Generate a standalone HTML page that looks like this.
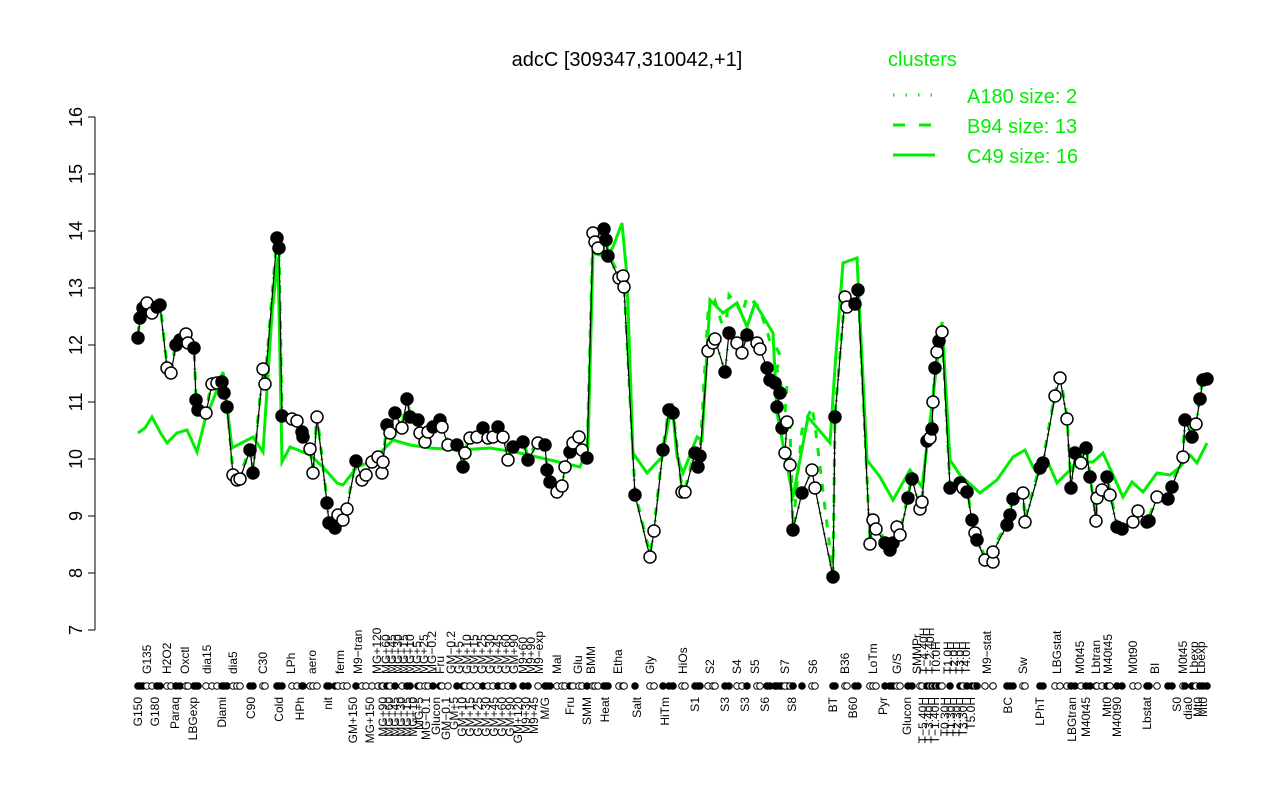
<!DOCTYPE html>
<html><head><meta charset="utf-8"><style>
html,body{margin:0;padding:0;background:#fff;}
svg{display:block;font-family:"Liberation Sans",Arial,sans-serif;}
</style></head><body>
<svg id="s" width="1280" height="800" viewBox="0 0 1280 800" xmlns="http://www.w3.org/2000/svg">
<rect width="1280" height="800" fill="#fff"/>
<text x="627" y="66" font-size="20" text-anchor="middle">adcC [309347,310042,+1]</text>
<text x="888" y="66" font-size="20" fill="#00ee00">clusters</text>
<line x1="893" y1="95" x2="935" y2="95" stroke="#00ee00" stroke-width="3" stroke-dasharray="1.5,11"/>
<line x1="893" y1="125" x2="935" y2="125" stroke="#00ee00" stroke-width="3" stroke-dasharray="12,14"/>
<line x1="893" y1="155" x2="935" y2="155" stroke="#00ee00" stroke-width="3"/>
<text x="967" y="103" font-size="20" fill="#00ee00">A180 size: 2</text>
<text x="967" y="133" font-size="20" fill="#00ee00">B94 size: 13</text>
<text x="967" y="163" font-size="20" fill="#00ee00">C49 size: 16</text>
<g stroke="#000" stroke-width="1">
<line x1="95" y1="117" x2="95" y2="630"/>
<line x1="88" y1="117" x2="95" y2="117"/><line x1="88" y1="174" x2="95" y2="174"/>
<line x1="88" y1="231" x2="95" y2="231"/><line x1="88" y1="288" x2="95" y2="288"/>
<line x1="88" y1="345" x2="95" y2="345"/><line x1="88" y1="402" x2="95" y2="402"/>
<line x1="88" y1="459" x2="95" y2="459"/><line x1="88" y1="516" x2="95" y2="516"/>
<line x1="88" y1="573" x2="95" y2="573"/><line x1="88" y1="630" x2="95" y2="630"/>
</g>
<g font-size="18" text-anchor="middle">
<text transform="translate(82,117) rotate(-90)">16</text>
<text transform="translate(82,174) rotate(-90)">15</text>
<text transform="translate(82,231) rotate(-90)">14</text>
<text transform="translate(82,288) rotate(-90)">13</text>
<text transform="translate(82,345) rotate(-90)">12</text>
<text transform="translate(82,402) rotate(-90)">11</text>
<text transform="translate(82,459) rotate(-90)">10</text>
<text transform="translate(82,516) rotate(-90)">9</text>
<text transform="translate(82,573) rotate(-90)">8</text>
<text transform="translate(82,630) rotate(-90)">7</text>
</g>
<polyline fill="none" stroke="#00ee00" stroke-width="3" points="138,433 145,428 152,417 160,432 167,443 177,433 187,430 197,452 205,420 215,395 223,372 232,448 253,437 263,452 272,313 278,257 282,462 290,447 298,450 310,455 323,467 337,483 343,485 357,467 370,462 383,450 393,440 410,445 430,448 460,450 490,448 520,453 550,460 580,467 588,447 593,253 607,257 613,247 622,223 627,277 633,453 647,473 662,457 672,403 677,457 683,473 697,437 702,440 710,300 723,313 737,303 747,327 755,303 773,333 777,413 793,497 808,417 830,443 835,367 843,263 857,258 867,460 880,477 893,500 910,470 922,487 942,322 950,460 960,475 980,493 997,480 1013,457 1025,450 1033,467 1047,460 1057,483 1067,473 1080,462 1093,462 1103,453 1123,497 1132,482 1143,492 1157,473 1170,475 1180,467 1190,455 1197,463 1207,443"/>
<g id="pts"></g>
<g id="mk"></g>
<g font-size="12" id="lab">
<g id="up">
<text transform="translate(151,674) rotate(-90)">G135</text>
<text transform="translate(171,674) rotate(-90)">H2O2</text>
<text transform="translate(189,674) rotate(-90)">Oxctl</text>
<text transform="translate(211,674) rotate(-90)">dia15</text>
<text transform="translate(237,674) rotate(-90)">dia5</text>
<text transform="translate(267,674) rotate(-90)">C30</text>
<text transform="translate(295,674) rotate(-90)">LPh</text>
<text transform="translate(316,674) rotate(-90)">aero</text>
<text transform="translate(344,674) rotate(-90)">ferm</text>
<text transform="translate(362,674) rotate(-90)">M9−tran</text>
<text transform="translate(381,674) rotate(-90)">MG+120</text>
<text transform="translate(390,674) rotate(-90)">MG+60</text>
<text transform="translate(396,674) rotate(-90)">MG+45</text>
<text transform="translate(402,674) rotate(-90)">MG+30</text>
<text transform="translate(408,674) rotate(-90)">MG+15</text>
<text transform="translate(414,674) rotate(-90)">MG+10</text>
<text transform="translate(421,674) rotate(-90)">MG+5</text>
<text transform="translate(428,674) rotate(-90)">MG+25</text>
<text transform="translate(436,674) rotate(-90)">MG−0.2</text>
<text transform="translate(444,674) rotate(-90)">Fru</text>
<text transform="translate(455,674) rotate(-90)">GM−0.2</text>
<text transform="translate(463,674) rotate(-90)">GM+5</text>
<text transform="translate(471,674) rotate(-90)">GM+10</text>
<text transform="translate(478,674) rotate(-90)">GM+15</text>
<text transform="translate(486,674) rotate(-90)">GM+25</text>
<text transform="translate(494,674) rotate(-90)">GM+30</text>
<text transform="translate(502,674) rotate(-90)">GM+45</text>
<text transform="translate(510,674) rotate(-90)">GM+60</text>
<text transform="translate(518,674) rotate(-90)">GM+90</text>
<text transform="translate(527,674) rotate(-90)">M9+60</text>
<text transform="translate(535,674) rotate(-90)">M9+90</text>
<text transform="translate(543,674) rotate(-90)">M9−exp</text>
<text transform="translate(561,674) rotate(-90)">Mal</text>
<text transform="translate(582,674) rotate(-90)">Glu</text>
<text transform="translate(595,674) rotate(-90)">BMM</text>
<text transform="translate(622,674) rotate(-90)">Etha</text>
<text transform="translate(654,674) rotate(-90)">Gly</text>
<text transform="translate(687,674) rotate(-90)">HiOs</text>
<text transform="translate(714,674) rotate(-90)">S2</text>
<text transform="translate(741,674) rotate(-90)">S4</text>
<text transform="translate(759,674) rotate(-90)">S5</text>
<text transform="translate(789,674) rotate(-90)">S7</text>
<text transform="translate(817,674) rotate(-90)">S6</text>
<text transform="translate(849,674) rotate(-90)">B36</text>
<text transform="translate(877,674) rotate(-90)">LoTm</text>
<text transform="translate(901,674) rotate(-90)">G/S</text>
<text transform="translate(921,674) rotate(-90)">SMMPr</text>
<text transform="translate(928,674) rotate(-90)">T−4.40H</text>
<text transform="translate(934,674) rotate(-90)">T−2.40H</text>
<text transform="translate(940,674) rotate(-90)">T0.0H</text>
<text transform="translate(952,674) rotate(-90)">T1.0H</text>
<text transform="translate(958,674) rotate(-90)">T2.0H</text>
<text transform="translate(964,674) rotate(-90)">T3.0H</text>
<text transform="translate(970,674) rotate(-90)">T4.0H</text>
<text transform="translate(991,674) rotate(-90)">M9−stat</text>
<text transform="translate(1027,674) rotate(-90)">Sw</text>
<text transform="translate(1061,674) rotate(-90)">LBGstat</text>
<text transform="translate(1084,674) rotate(-90)">M0t45</text>
<text transform="translate(1100,674) rotate(-90)">Lbtran</text>
<text transform="translate(1112,674) rotate(-90)">M40t45</text>
<text transform="translate(1137,674) rotate(-90)">M0t90</text>
<text transform="translate(1159,674) rotate(-90)">BI</text>
<text transform="translate(1187,674) rotate(-90)">M0t45</text>
<text transform="translate(1198,674) rotate(-90)">Lbexp</text>
<text transform="translate(1205,674) rotate(-90)">Lbexp</text>
</g>
<g text-anchor="end">
<text transform="translate(142,697) rotate(-90)">G150</text>
<text transform="translate(159,697) rotate(-90)">G180</text>
<text transform="translate(179,697) rotate(-90)">Paraq</text>
<text transform="translate(197,697) rotate(-90)">LBGexp</text>
<text transform="translate(226,697) rotate(-90)">Diami</text>
<text transform="translate(255,697) rotate(-90)">C90</text>
<text transform="translate(283,697) rotate(-90)">Cold</text>
<text transform="translate(304,697) rotate(-90)">HPh</text>
<text transform="translate(332,697) rotate(-90)">nit</text>
<text transform="translate(357,697) rotate(-90)">GM+150</text>
<text transform="translate(374,697) rotate(-90)">MG+150</text>
<text transform="translate(387,697) rotate(-90)">MG+90</text>
<text transform="translate(393,697) rotate(-90)">MG+60</text>
<text transform="translate(399,697) rotate(-90)">MG+45</text>
<text transform="translate(405,697) rotate(-90)">MG+30</text>
<text transform="translate(411,697) rotate(-90)">MG+15</text>
<text transform="translate(417,697) rotate(-90)">MG+10</text>
<text transform="translate(423,697) rotate(-90)">MG+5</text>
<text transform="translate(430,697) rotate(-90)">MG−0.1</text>
<text transform="translate(440,697) rotate(-90)">Glucon</text>
<text transform="translate(450,697) rotate(-90)">GM−0.1</text>
<text transform="translate(458,697) rotate(-90)">GM+5</text>
<text transform="translate(466,697) rotate(-90)">GM+10</text>
<text transform="translate(474,697) rotate(-90)">GM+15</text>
<text transform="translate(482,697) rotate(-90)">GM+25</text>
<text transform="translate(490,697) rotate(-90)">GM+30</text>
<text transform="translate(498,697) rotate(-90)">GM+45</text>
<text transform="translate(506,697) rotate(-90)">GM+60</text>
<text transform="translate(514,697) rotate(-90)">GM+90</text>
<text transform="translate(522,697) rotate(-90)">GM+120</text>
<text transform="translate(530,697) rotate(-90)">M9+30</text>
<text transform="translate(538,697) rotate(-90)">M9+45</text>
<text transform="translate(549,697) rotate(-90)">M/G</text>
<text transform="translate(574,697) rotate(-90)">Fru</text>
<text transform="translate(591,697) rotate(-90)">SMM</text>
<text transform="translate(609,697) rotate(-90)">Heat</text>
<text transform="translate(641,697) rotate(-90)">Salt</text>
<text transform="translate(669,697) rotate(-90)">HiTm</text>
<text transform="translate(699,697) rotate(-90)">S1</text>
<text transform="translate(729,697) rotate(-90)">S3</text>
<text transform="translate(749,697) rotate(-90)">S3</text>
<text transform="translate(769,697) rotate(-90)">S6</text>
<text transform="translate(796,697) rotate(-90)">S8</text>
<text transform="translate(837,697) rotate(-90)">BT</text>
<text transform="translate(857,697) rotate(-90)">B60</text>
<text transform="translate(887,697) rotate(-90)">Pyr</text>
<text transform="translate(911,697) rotate(-90)">Glucon</text>
<text transform="translate(927,697) rotate(-90)">T−5.40H</text>
<text transform="translate(933,697) rotate(-90)">T−3.40H</text>
<text transform="translate(939,697) rotate(-90)">T−1.40H</text>
<text transform="translate(949,697) rotate(-90)">T0.30H</text>
<text transform="translate(955,697) rotate(-90)">T1.30H</text>
<text transform="translate(961,697) rotate(-90)">T2.30H</text>
<text transform="translate(967,697) rotate(-90)">T3.30H</text>
<text transform="translate(975,697) rotate(-90)">T5.0H</text>
<text transform="translate(1012,697) rotate(-90)">BC</text>
<text transform="translate(1044,697) rotate(-90)">LPhT</text>
<text transform="translate(1076,697) rotate(-90)">LBGtran</text>
<text transform="translate(1090,697) rotate(-90)">M40t45</text>
<text transform="translate(1111,697) rotate(-90)">Mt0</text>
<text transform="translate(1121,697) rotate(-90)">M40t90</text>
<text transform="translate(1151,697) rotate(-90)">Lbstat</text>
<text transform="translate(1181,697) rotate(-90)">S0</text>
<text transform="translate(1192,697) rotate(-90)">dia0</text>
<text transform="translate(1202,697) rotate(-90)">Mt0</text>
<text transform="translate(1207,697) rotate(-90)">Mt0</text>
</g>
</g>
</svg>
<script>
var P=[[138,338,1],[140,318,1],[143,308,1],[147,303,0],[152,313,0],[157,307,1],[160,305,1],[167,368,0],[171,373,0],[176,345,1],[180,340,1],[186,334,0],[188,343,0],[194,348,1],[196,400,1],[198,410,1],[206,413,0],[212,384,0],[217,383,0],[222,382,1],[224,393,1],[227,407,1],[233,475,0],[237,480,0],[240,479,0],[250,450,1],[253,473,1],[263,369,0],[265,384,0],[277,238,1],[279,248,1],[282,416,1],[292,419,0],[297,421,0],[302,432,1],[303,437,1],[310,449,0],[313,473,0],[317,417,0],[327,503,1],[329,523,1],[335,528,1],[338,515,0],[343,520,0],[347,509,0],[356,461,1],[362,480,0],[366,475,0],[372,462,0],[378,457,0],[382,473,0],[383,462,0],[387,425,1],[390,433,0],[395,413,1],[402,428,0],[407,399,1],[410,417,1],[418,420,1],[420,433,0],[425,442,0],[428,432,0],[433,427,1],[440,420,1],[442,427,0],[448,445,0],[457,445,1],[463,467,1],[465,453,0],[470,438,0],[477,437,0],[483,428,1],[488,438,0],[493,437,0],[498,427,1],[503,437,0],[508,460,0],[513,447,1],[523,442,1],[528,460,1],[538,443,0],[545,445,1],[547,470,1],[550,482,1],[557,492,0],[562,486,0],[565,467,0],[570,452,1],[573,443,0],[579,437,0],[582,450,0],[587,458,1],[593,233,0],[595,242,0],[598,248,0],[604,229,1],[606,240,1],[608,256,1],[619,278,0],[623,276,0],[624,287,0],[635,495,1],[650,557,0],[654,531,0],[663,450,1],[669,410,1],[673,413,1],[682,492,0],[685,492,0],[695,453,1],[698,467,1],[700,456,1],[708,351,0],[713,343,0],[715,339,0],[725,372,1],[729,333,1],[737,343,0],[742,353,0],[747,335,1],[757,343,0],[760,349,0],[767,368,1],[770,380,1],[775,383,1],[780,393,1],[777,407,1],[782,428,1],[787,422,0],[785,453,0],[790,465,0],[793,530,1],[802,493,1],[812,470,0],[815,488,0],[833,577,1],[835,417,1],[845,297,0],[847,307,0],[855,304,1],[858,290,1],[870,544,0],[873,520,0],[876,529,0],[885,543,1],[890,550,1],[893,543,1],[897,527,0],[900,535,0],[908,498,1],[912,479,1],[920,509,0],[922,502,0],[927,441,1],[930,438,0],[932,429,1],[933,402,0],[935,368,1],[937,352,0],[939,341,1],[942,332,0],[950,488,1],[960,483,1],[963,488,0],[967,492,1],[972,520,1],[975,533,0],[977,540,1],[985,560,0],[993,562,0],[993,552,0],[1007,525,1],[1010,515,1],[1013,499,1],[1023,493,0],[1025,522,0],[1040,468,1],[1043,463,1],[1055,396,0],[1060,378,0],[1067,419,0],[1071,488,1],[1075,453,1],[1081,463,0],[1086,448,1],[1090,477,1],[1096,521,0],[1097,498,0],[1102,490,0],[1107,477,1],[1110,495,0],[1117,527,1],[1122,529,1],[1133,522,0],[1138,511,0],[1147,522,1],[1149,521,1],[1157,497,0],[1168,499,1],[1172,487,1],[1183,457,0],[1185,420,1],[1192,437,1],[1196,424,0],[1200,399,1],[1203,380,1],[1207,379,1]];
var NS="http://www.w3.org/2000/svg",g=document.getElementById("pts"),m=document.getElementById("mk");
function el(t,a,p){var e=document.createElementNS(NS,t);for(var k in a)e.setAttribute(k,a[k]);p.appendChild(e);return e;}
var pts=P.map(function(p){return p[0]+","+p[1]}).join(" ");
var dash=P.map(function(p){var y=p[1];if(p[0]>=705&&p[0]<=790)y-=35;else if(p[0]>=800&&p[0]<=830)y-=60;return p[0]+","+(y-3)}).join(" ");
el("polyline",{points:dash,fill:"none",stroke:"#00ee00","stroke-width":3,"stroke-dasharray":"8,10"},g);
el("polyline",{points:pts,fill:"none",stroke:"#00ee00","stroke-width":3,"stroke-dasharray":"1.5,9"},g);
el("polyline",{points:pts,fill:"none",stroke:"#000","stroke-width":1.2},g);
P.forEach(function(p){el("circle",{cx:p[0],cy:p[1],r:6,fill:p[2]?"#000":"#fff",stroke:"#000","stroke-width":1.5},g);
el("circle",{cx:p[0],cy:686,r:3.3,fill:p[2]?"#000":"#fff",stroke:"#000","stroke-width":1},m);});
</script>
</body></html>
